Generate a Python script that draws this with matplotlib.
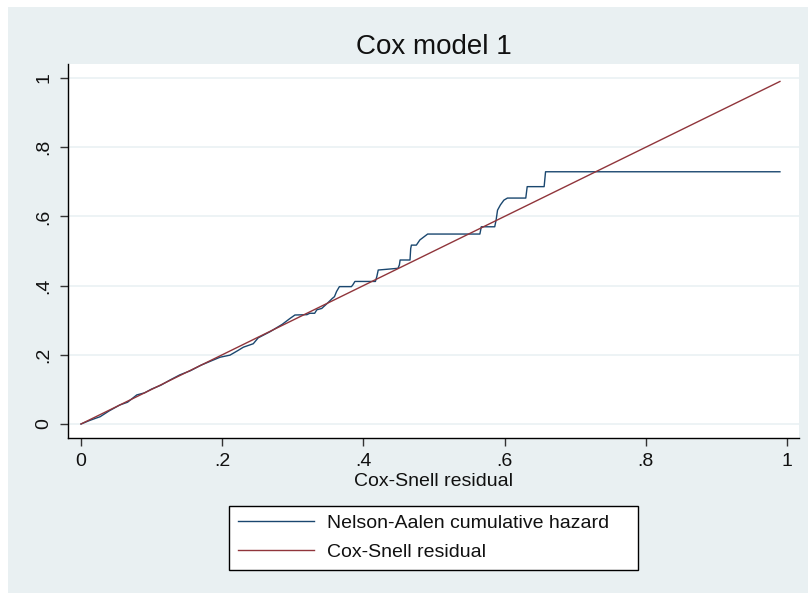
import matplotlib
matplotlib.use('Agg')
import matplotlib.pyplot as plt
from matplotlib.patches import Rectangle

plt.rcParams['font.family'] = ['Liberation Sans', 'DejaVu Sans']

# ---- data ----
title = "Cox model 1"
xlabel = "Cox-Snell residual"
legend_labels = ["Nelson-Aalen cumulative hazard", "Cox-Snell residual"]
tick_values = [0, 0.2, 0.4, 0.6, 0.8, 1.0]
tick_labels = ["0", ".2", ".4", ".6", ".8", "1"]

# Nelson-Aalen cumulative hazard vs Cox-Snell residual (points joined by a line)
na_x = [0.000, 0.012, 0.020, 0.027, 0.040, 0.055, 0.066, 0.079, 0.090, 0.100,
        0.113, 0.126, 0.140, 0.155, 0.170, 0.184, 0.197, 0.211, 0.222, 0.230,
        0.244, 0.251, 0.268, 0.285, 0.296, 0.303, 0.320, 0.324, 0.331, 0.334,
        0.341, 0.349, 0.356, 0.359, 0.362, 0.366, 0.383, 0.385, 0.388, 0.417,
        0.419, 0.421, 0.449, 0.451, 0.452, 0.466, 0.467, 0.468, 0.475, 0.480,
        0.491, 0.565, 0.567, 0.586, 0.588, 0.590, 0.594, 0.599, 0.604, 0.630,
        0.632, 0.656, 0.658, 0.990]
na_y = [0.000, 0.010, 0.016, 0.021, 0.038, 0.055, 0.063, 0.084, 0.090, 0.101,
        0.112, 0.127, 0.142, 0.154, 0.170, 0.182, 0.193, 0.199, 0.212, 0.222,
        0.232, 0.249, 0.267, 0.288, 0.305, 0.315, 0.316, 0.320, 0.320, 0.330,
        0.334, 0.349, 0.363, 0.368, 0.383, 0.397, 0.397, 0.402, 0.412, 0.412,
        0.426, 0.445, 0.450, 0.460, 0.474, 0.474, 0.507, 0.517, 0.517, 0.532,
        0.549, 0.549, 0.570, 0.570, 0.590, 0.618, 0.633, 0.647, 0.653, 0.653,
        0.686, 0.686, 0.729, 0.729]

# Cox-Snell residual against itself
cs_x = [0.000, 0.990]
cs_y = [0.000, 0.990]

# ---- styling ----
BG = '#e9f0f2'
BLUE = '#1a476f'
RED = '#90353b'
TXT = '#111111'
W, H = 808, 593

fig = plt.figure(figsize=(W / 100, H / 100), dpi=100, facecolor='white')
fig.patches.append(Rectangle((8 / W, 0), 1, 1 - 7 / H, transform=fig.transFigure,
                             facecolor=BG, edgecolor='none', zorder=-10))

ax = fig.add_axes([68 / W, 1 - 438 / H, (799 - 68) / W, (438 - 64) / H])
ax.set_zorder(1)
ax.set_facecolor('white')

ax.plot(na_x, na_y, color=BLUE, lw=1.0, label=legend_labels[0], zorder=3)
ax.plot(cs_x, cs_y, color=RED, lw=1.0, label=legend_labels[1], zorder=4)

ax.set_xlim(-13 / 706, 718 / 706)
ax.set_ylim(-14 / 346, 360 / 346)

ax.set_xticks(tick_values)
ax.set_xticklabels(tick_labels)
ax.set_yticks(tick_values)
ax.set_yticklabels(tick_labels, rotation=90, va='center')
ax.tick_params(axis='both', length=6, width=1, colors='#333333',
               labelsize=14, labelcolor=TXT, pad=5)

ax.grid(axis='y', color='#eaf1f3', lw=1.2, zorder=0)
ax.grid(axis='x', visible=False)
for s in ['top', 'right']:
    ax.spines[s].set_visible(False)
for s in ['left', 'bottom']:
    ax.spines[s].set_color('black')
    ax.spines[s].set_linewidth(1.0)

ax.set_title(title, fontsize=20, color=TXT, pad=7)
ax.set_xlabel(xlabel, fontsize=14, color=TXT, labelpad=2)

leg = fig.legend(loc='lower left',
                 bbox_to_anchor=(229 / W, 1 - 570 / H, (638 - 229) / W, 65 / H),
                 mode='expand', fontsize=14, handlelength=3.9, handletextpad=0.67,
                 borderpad=0.45, labelspacing=0.6, borderaxespad=0,
                 fancybox=False, frameon=True, edgecolor='black', facecolor='white',
                 framealpha=1)
leg.get_frame().set_linewidth(1.0)
for t in leg.get_texts():
    t.set_color(TXT)

fig.savefig('out.png', dpi=100, facecolor=fig.get_facecolor())
